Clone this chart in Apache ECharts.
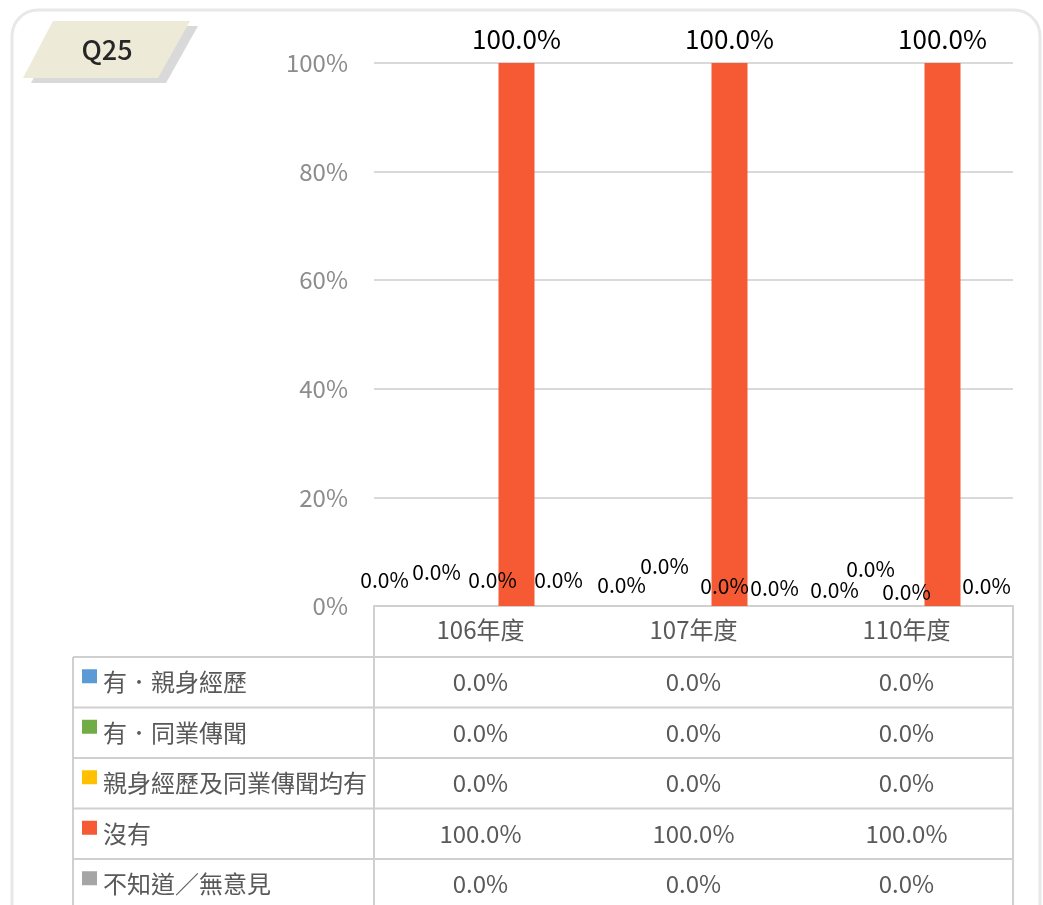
<!DOCTYPE html>
<html>
<head>
<meta charset="utf-8">
<script src="https://cdn.jsdelivr.net/npm/echarts@6/dist/echarts.min.js"></script>
<style>
  html, body { margin: 0; padding: 0; background: #fff; }
  #chart { width: 1043px; height: 905px; }
</style>
</head>
<body>
<div id="chart"></div>
<script>
// 資料
var categories = ["106年度", "107年度", "110年度"];
var seriesNames = ["有，親身經歷", "有，同業傳聞", "親身經歷及同業傳聞均有", "沒有", "不知道/無意見"];
var legendText = ["有．親身經歷", "有．同業傳聞", "親身經歷及同業傳聞均有", "沒有", "不知道／無意見"];
var s1 = [0, 0, 0];
var s2 = [0, 0, 0];
var s3 = [0, 0, 0];
var s4 = [100, 100, 100];
var s5 = [0, 0, 0];
var yTicks = [0, 20, 40, 60, 80, 100];

var colors = ["#5b9bd5", "#70ad47", "#ffc000", "#f55a35", "#a5a5a5"];
var FONT = "Noto Sans CJK TC";

// 標籤位移 (Excel 自動避讓的位置)
var labelShift = [
  [[-24, -10], [0, -5], [0, 0]],
  [[-8, -18], [7, -24], [0, -21]],
  [[12, -10], [31, -4], [0, 2]],
  [[0, -6], [0, -6], [0, -6]],
  [[6, -10], [9, -2], [8, -4]]
];

var allData = [s1, s2, s3, s4, s5];

var chart = echarts.init(document.getElementById("chart"));

var series = allData.map(function (arr, i) {
  return {
    name: seriesNames[i],
    type: "bar",
    barWidth: 36,
    barGap: "0%",
    itemStyle: { color: colors[i] },
    label: {
      show: true,
      position: "top",
      color: "#000",
      fontFamily: FONT,
      fontSize: i === 3 ? 26 : 21,
      formatter: function (p) {
        return p.value.toFixed(1) + "%";
      }
    },
    data: arr.map(function (v, j) {
      return { value: v, label: { offset: labelShift[i][j] } };
    })
  };
});

var option = {
  animation: false,
  grid: { left: 374, right: 30, top: 63, bottom: 299 },
  xAxis: {
    type: "category",
    data: categories,
    axisTick: { show: false },
    axisLine: { lineStyle: { color: "#d0d0d0", width: 2 } },
    axisLabel: { color: "#595959", fontSize: 24, fontFamily: FONT, margin: 12 }
  },
  yAxis: {
    type: "value",
    min: 0,
    max: 100,
    interval: 20,
    axisLine: { show: false },
    axisTick: { show: false },
    splitLine: { lineStyle: { color: "#d9d9d9", width: 2 } },
    axisLabel: {
      color: "#8c8c8c",
      fontSize: 24,
      fontFamily: FONT,
      margin: 26,
      formatter: function (v) {
        return yTicks.indexOf(v) >= 0 ? v + "%" : "";
      }
    }
  },
  series: series
};
chart.setOption(option);

// 卡片、標題、資料表
var g = [];
g.push({
  type: "rect", z: -10,
  shape: { x: 12, y: 10, width: 1028, height: 940, r: 26 },
  style: { fill: "#fff", stroke: "#e8e8e8", lineWidth: 3 }
});
g.push({
  type: "polygon",
  shape: { points: [[61, 26], [198, 26], [166, 83], [31, 83]] },
  style: { fill: "#d9d9d9" }
});
g.push({
  type: "polygon",
  shape: { points: [[53, 21], [190, 21], [158, 78], [23, 78]] },
  style: { fill: "#eeead8" }
});
g.push({
  type: "text", x: 107, y: 50,
  style: { text: "Q25", fontSize: 27, fontFamily: FONT, fill: "#262626", align: "center", verticalAlign: "middle", fontWeight: 500 }
});

var tLeft = 73, tMid = 374, tRight = 1013;
var rowTop = 657, rowH = 50.5, tBottom = 920;
var lineStyle = { stroke: "#d0d0d0", lineWidth: 2 };
for (var r = 0; r < 5; r++) {
  g.push({ type: "line", shape: { x1: tLeft, y1: rowTop + r * rowH, x2: tRight, y2: rowTop + r * rowH }, style: lineStyle });
}
g.push({ type: "line", shape: { x1: tLeft, y1: rowTop, x2: tLeft, y2: tBottom }, style: lineStyle });
g.push({ type: "line", shape: { x1: tMid, y1: 606, x2: tMid, y2: tBottom }, style: lineStyle });
g.push({ type: "line", shape: { x1: tRight, y1: 606, x2: tRight, y2: tBottom }, style: lineStyle });

allData.forEach(function (arr, i) {
  var cy = rowTop + i * rowH + rowH / 2;
  g.push({ type: "rect", shape: { x: 82, y: cy - 13, width: 15, height: 14 }, style: { fill: colors[i] } });
  g.push({
    type: "text", x: 103, y: cy,
    style: { text: legendText[i], fontSize: 24, fontFamily: FONT, fill: "#595959", verticalAlign: "middle" }
  });
  arr.forEach(function (v, j) {
    var cx = chart.convertToPixel({ xAxisIndex: 0 }, categories[j]);
    g.push({
      type: "text", x: cx, y: cy,
      style: { text: v.toFixed(1) + "%", fontSize: 24, fontFamily: FONT, fill: "#595959", align: "center", verticalAlign: "middle" }
    });
  });
});

chart.setOption({ graphic: g });
</script>
</body>
</html>
